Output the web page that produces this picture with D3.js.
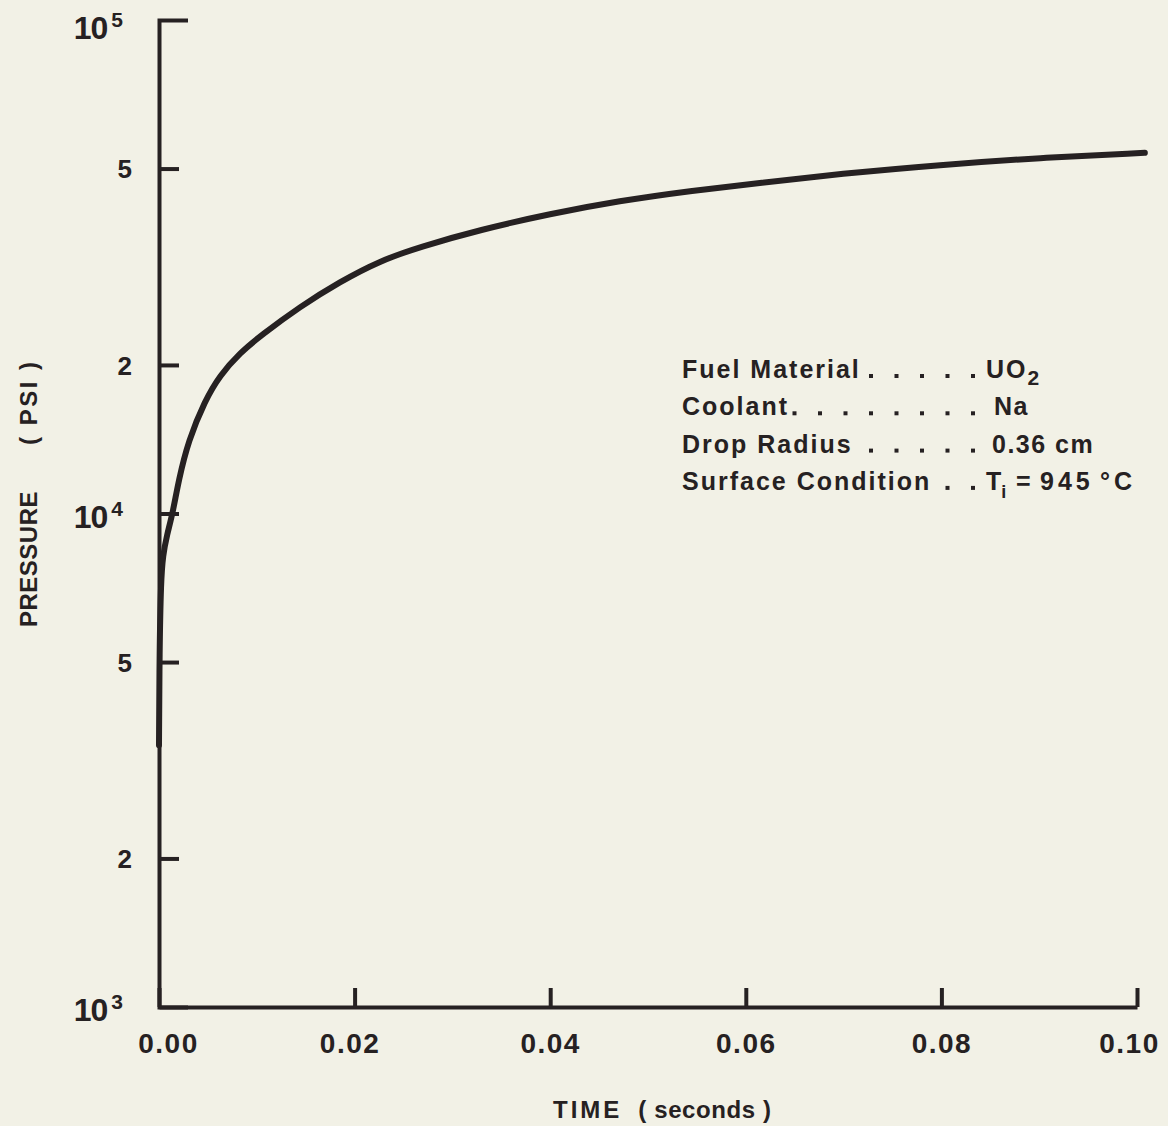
<!DOCTYPE html>
<html>
<head>
<meta charset="utf-8">
<script src="https://cdn.jsdelivr.net/npm/d3@7"></script>
<style>
  html, body { margin: 0; padding: 0; background: #f2f1e6; }
  svg { display: block; }
  text { font-family: "Liberation Sans", Arial, sans-serif; font-weight: bold; fill: #262122; }
</style>
</head>
<body>
<svg id="chart" width="1168" height="1126"></svg>
<script>
// ---- data ----
const timeSec = [0, 0.00005, 0.0002, 0.0004, 0.0008, 0.0014, 0.0020, 0.0030, 0.0047, 0.0062,
                 0.0083, 0.0104, 0.0144, 0.0185, 0.0226, 0.0267, 0.0328, 0.0400, 0.0471, 0.0543,
                 0.0615, 0.0696, 0.0799, 0.0900, 0.1008];
const pressurePsi = [3390, 5280, 7320, 8220, 9030, 10000, 11660, 14050, 16930, 19030,
                     21180, 22930, 26240, 29490, 32520, 34710, 37570, 40490, 43010, 45060,
                     46770, 48780, 50870, 52560, 53810];
const xTickValues = [0, 0.02, 0.04, 0.06, 0.08, 0.10];
const xTickLabels = ["0.00", "0.02", "0.04", "0.06", "0.08", "0.10"];
const yTickValues = [2e3, 5e3, 1e4, 2e4, 5e4];
const yTickLabels = ["2", "5", "", "2", "5"];
const yPowerValues = [1e3, 1e4, 1e5];
const yPowerExps = ["3", "4", "5"];
const infoLabels = ["Fuel Material", "Coolant", "Drop Radius", "Surface Condition"];
const infoDots = [5, 8, 5, 2];
const xTitle = ["TIME", "( seconds )"];
const yTitle = ["PRESSURE", "( PSI )"];

const ink = "#262122";
const svg = d3.select("#chart");

const x = d3.scaleLinear().domain([0, 0.1]).range([159, 1137]);
const y = d3.scaleLog().domain([1e3, 1e5]).range([1007, 20]);

// x axis
const gx = svg.append("g").attr("transform", "translate(0,1007)")
  .call(d3.axisBottom(x).tickValues(xTickValues).tickSize(-19).tickSizeOuter(0)
        .tickPadding(26).tickFormat((d, i) => xTickLabels[i]));
gx.selectAll("path, line").attr("stroke", ink).attr("stroke-width", 4);
gx.selectAll("text").attr("font-size", 28).attr("letter-spacing", 1.5)
  .attr("fill", ink).style("font-family", null);
gx.selectAll("text").filter((d, i) => i === 0).attr("dx", 9);
gx.selectAll("text").filter((d, i) => i === 1).attr("dx", -5);
gx.selectAll("text").filter((d, i) => i === 5).attr("dx", -8);

// y axis
const gy = svg.append("g").attr("transform", "translate(159,0)")
  .call(d3.axisLeft(y).tickValues(yTickValues).tickSize(-20).tickSizeOuter(-29)
        .tickPadding(27).tickFormat((d, i) => yTickLabels[i]));
gy.selectAll("path, line").attr("stroke", ink).attr("stroke-width", 4);
gy.selectAll("text").attr("font-size", 26).attr("fill", ink).attr("dy", "0.36em");

// powers of ten labels
yPowerValues.forEach((v, i) => {
  const off = i === 2 ? 19 : 14;
  const t = svg.append("text").attr("x", 123).attr("y", y(v) + off).attr("text-anchor", "end");
  t.append("tspan").attr("font-size", 32).attr("letter-spacing", -1).text("10");
  t.append("tspan").attr("font-size", 21).attr("dx", 4).attr("dy", -12).text(yPowerExps[i]);
});

// curve
const line = d3.line().x((d, i) => x(timeSec[i])).y((d) => y(d)).curve(d3.curveBasis);
svg.append("path").datum(pressurePsi).attr("d", line)
  .attr("fill", "none").attr("stroke", ink).attr("stroke-width", 6)
  .attr("stroke-linecap", "round").attr("stroke-linejoin", "round");

// info block
const infoX = 682, infoY0 = 378, infoDy = 37.3, valX = 986, lastDot = 973, dotGap = 25.5;
infoLabels.forEach((lab, i) => {
  const by = infoY0 + i * infoDy;
  svg.append("text").attr("x", infoX).attr("y", by).attr("font-size", 25)
    .attr("letter-spacing", 2).text(lab);
  for (let k = 0; k < infoDots[i]; k++) {
    svg.append("rect").attr("x", lastDot - k * dotGap - 2).attr("y", by - 4)
      .attr("width", 4).attr("height", 4).attr("fill", ink);
  }
});
// values
{
  const t0 = svg.append("text").attr("x", valX).attr("y", infoY0).attr("font-size", 25).attr("letter-spacing", 2);
  t0.append("tspan").text("UO");
  t0.append("tspan").attr("font-size", 21).attr("dy", 7).text("2");
  svg.append("text").attr("x", valX + 8).attr("y", infoY0 + infoDy).attr("font-size", 25)
    .attr("letter-spacing", 1.5).text("Na");
  svg.append("text").attr("x", valX + 6).attr("y", infoY0 + 2 * infoDy).attr("font-size", 25)
    .attr("letter-spacing", 1.5).text("0.36 cm");
  const by = infoY0 + 3 * infoDy;
  const t3 = svg.append("text").attr("y", by).attr("font-size", 25);
  t3.append("tspan").attr("x", valX).text("T");
  t3.append("tspan").attr("font-size", 18).attr("dy", 8).text("i");
  t3.append("tspan").attr("x", 1016).attr("y", by).text("=");
  t3.append("tspan").attr("x", 1040).attr("letter-spacing", 4).text("945");
  t3.append("tspan").attr("x", 1100).attr("letter-spacing", 4).text("°C");
}

// axis titles
const xt = svg.append("text").attr("x", 553).attr("y", 1118).attr("font-size", 24).attr("letter-spacing", 3);
xt.append("tspan").text(xTitle[0]);
xt.append("tspan").attr("dx", 16).attr("letter-spacing", 0.6).text(xTitle[1]);

const yt = svg.append("text").attr("transform", "translate(37,627) rotate(-90)")
  .attr("font-size", 24).attr("letter-spacing", 0.5);
yt.append("tspan").text(yTitle[0]);
yt.append("tspan").attr("dx", 46).attr("letter-spacing", 2.5).text(yTitle[1]);
</script>
</body>
</html>
